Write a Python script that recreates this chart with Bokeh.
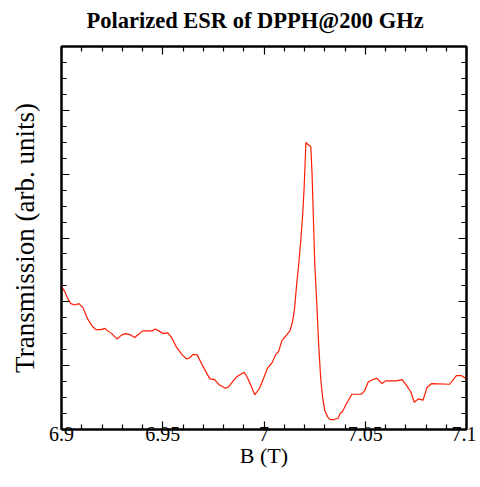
from bokeh.plotting import figure
from bokeh.models import LinearAxis, FixedTicker, Range1d, CustomJSTickFormatter
from bokeh.embed import file_html
from bokeh.resources import INLINE

# Data
field_T = [6.9000, 6.9016, 6.9030, 6.9046, 6.9066, 6.9086, 6.9106, 6.9129, 6.9152, 6.9170,
           6.9195, 6.9215, 6.9228, 6.9248, 6.9274, 6.9298, 6.9318, 6.9341, 6.9361, 6.9381,
           6.9400, 6.9427, 6.9447, 6.9463, 6.9480, 6.9503, 6.9525, 6.9544, 6.9567, 6.9594,
           6.9617, 6.9630, 6.9650, 6.9670, 6.9693, 6.9716, 6.9733, 6.9756, 6.9779, 6.9809,
           6.9825, 6.9845, 6.9865, 6.9902, 6.9918, 6.9938, 6.9954, 6.9978, 7.0001, 7.0017,
           7.0041, 7.0057, 7.0072, 7.0088, 7.0112, 7.0128, 7.0141, 7.0151, 7.0161, 7.0171,
           7.0181, 7.0191, 7.0198, 7.0204, 7.0207, 7.0217, 7.0231, 7.0237, 7.0244, 7.0251,
           7.0261, 7.0270, 7.0280, 7.0290, 7.0300, 7.0314, 7.0327, 7.0346, 7.0366, 7.0376,
           7.0388, 7.0404, 7.0434, 7.0480, 7.0497, 7.0514, 7.0537, 7.0557, 7.0570, 7.0583,
           7.0600, 7.0653, 7.0682, 7.0702, 7.0726, 7.0742, 7.0762, 7.0785, 7.0805, 7.0828,
           7.0917, 7.0950, 7.0974, 7.1000]
transmission = [2.243, 2.160, 2.055, 1.972, 1.951, 1.972, 1.909, 1.732, 1.617, 1.565,
                1.565, 1.585, 1.545, 1.502, 1.419, 1.482, 1.502, 1.482, 1.440, 1.491,
                1.545, 1.545, 1.545, 1.576, 1.545, 1.502, 1.513, 1.440, 1.294, 1.178,
                1.106, 1.116, 1.178, 1.169, 1.022, 0.887, 0.793, 0.782, 0.700, 0.646,
                0.668, 0.751, 0.825, 0.897, 0.814, 0.668, 0.543, 0.646, 0.825, 0.959,
                1.053, 1.169, 1.221, 1.388, 1.482, 1.545, 1.690, 1.898, 2.264, 2.577,
                2.942, 3.360, 3.776, 4.246, 4.496, 4.465, 4.433, 4.038, 3.307, 2.577,
                1.951, 1.326, 0.803, 0.490, 0.302, 0.199, 0.156, 0.156, 0.177, 0.250,
                0.282, 0.387, 0.552, 0.552, 0.606, 0.740, 0.782, 0.803, 0.762, 0.720,
                0.762, 0.762, 0.782, 0.700, 0.584, 0.427, 0.480, 0.459, 0.657, 0.720,
                0.709, 0.845, 0.845, 0.793]

x_ticks = [6.9, 6.95, 7.0, 7.05, 7.1]
x_tick_labels = ["6.9", "6.95", "7", "7.05", "7.1"]
x_minor = [6.91, 6.92, 6.93, 6.94, 6.96, 6.97, 6.98, 6.99,
           7.01, 7.02, 7.03, 7.04, 7.06, 7.07, 7.08, 7.09]
y_ticks = [1, 2, 3, 4, 5]
y_minor = [0.25, 0.5, 0.75, 1.25, 1.5, 1.75, 2.25, 2.5, 2.75, 3.25, 3.5, 3.75,
           4.25, 4.5, 4.75, 5.25, 5.5, 5.75]

SERIF = "Liberation Serif"

p = figure(width=476, height=479, output_backend="svg", toolbar_location=None,
           x_range=Range1d(6.9, 7.1), y_range=Range1d(0, 6),
           min_border_left=61, min_border_right=10, min_border_top=44, min_border_bottom=50)

p.title.text = "Polarized ESR of DPPH@200 GHz"
p.title.text_font = SERIF
p.title.text_font_size = "22.5px"
p.title.text_font_style = "bold"
p.title.align = "left"
p.title.offset = 25
p.title.text_color = "black"
p.title.standoff = 11

p.line(field_T, transmission, line_color="#ff1a00", line_width=1.2)

p.grid.visible = False
p.outline_line_color = "black"
p.outline_line_width = 2
p.background_fill_color = "white"
p.border_fill_color = "white"

blank = CustomJSTickFormatter(code="return ' ';")


def style_axis(ax, show_labels):
    ax.axis_line_width = 2
    ax.axis_line_color = "black"
    ax.major_tick_in = 8
    ax.major_tick_out = 0
    ax.minor_tick_in = 5
    ax.minor_tick_out = 0
    ax.major_tick_line_width = 1.2
    ax.minor_tick_line_width = 1.2
    ax.major_tick_line_color = "black"
    ax.minor_tick_line_color = "black"
    ax.major_label_text_font = SERIF
    ax.major_label_text_color = "black"
    if not show_labels:
        ax.formatter = blank
        ax.major_label_text_font_size = "4px"
        ax.major_label_standoff = 0


xa = p.xaxis[0]
xa.ticker = FixedTicker(ticks=x_ticks, minor_ticks=x_minor)
xa.major_label_overrides = {t: l for t, l in zip(x_ticks, x_tick_labels)}
style_axis(xa, True)
xa.major_label_text_font_size = "20px"
xa.major_label_standoff = -3
xa.axis_label = "B (T)"
xa.axis_label_text_font = SERIF
xa.axis_label_text_font_size = "22px"
xa.axis_label_text_font_style = "normal"
xa.axis_label_standoff = -1
xa.axis_label_text_color = "black"

ya = p.yaxis[0]
ya.ticker = FixedTicker(ticks=y_ticks, minor_ticks=y_minor)
style_axis(ya, False)
ya.axis_label = "Transmission (arb. units)"
ya.axis_label_text_font = SERIF
ya.axis_label_text_font_size = "27px"
ya.axis_label_text_font_style = "normal"
ya.axis_label_standoff = 18
ya.axis_label_text_color = "black"

right = LinearAxis(ticker=FixedTicker(ticks=y_ticks, minor_ticks=y_minor))
style_axis(right, False)
p.add_layout(right, "right")
top = LinearAxis(ticker=FixedTicker(ticks=x_ticks, minor_ticks=x_minor))
style_axis(top, False)
p.add_layout(top, "above")

open("out.html", "w").write(file_html(p, INLINE))
